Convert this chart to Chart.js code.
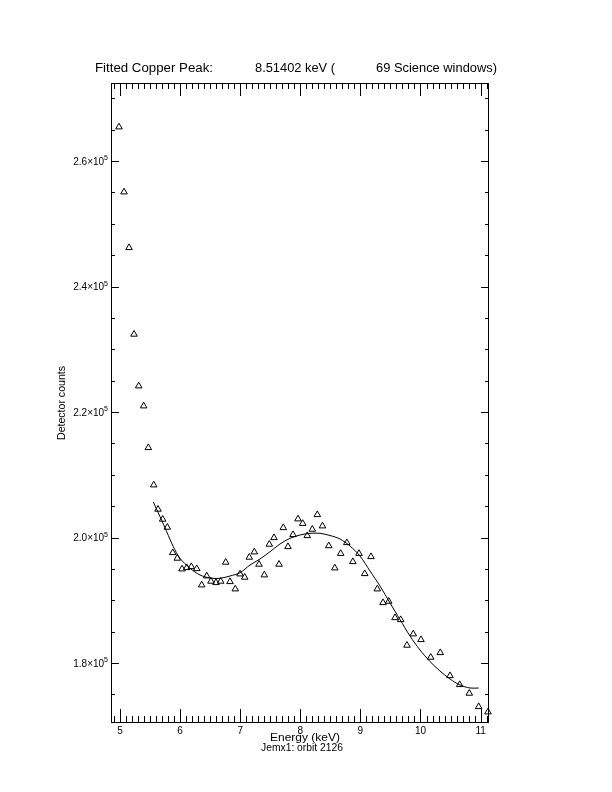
<!DOCTYPE html>
<html>
<head>
<meta charset="utf-8">
<script src="https://cdn.jsdelivr.net/npm/chart.js@4.4.1/dist/chart.umd.min.js"></script>
<style>
  html,body{margin:0;padding:0;background:#fff}
  #wrap{width:612px;height:792px}
</style>
</head>
<body>
<div id="wrap"><canvas id="chart" width="612" height="792"></canvas></div>
<script>
// measured spectrum (keV / counts)
const energy=[4.983,5.067,5.150,5.233,5.311,5.394,5.471,5.561,5.632,5.710,
  5.787,5.877,5.953,6.032,6.110,6.186,6.276,6.359,6.443,6.514,
  6.597,6.676,6.759,6.830,6.918,6.997,7.075,7.151,7.235,7.313,
  7.401,7.484,7.562,7.646,7.717,7.795,7.879,7.962,8.040,8.116,
  8.200,8.283,8.369,8.474,8.574,8.672,8.774,8.874,8.977,9.072,
  9.176,9.281,9.376,9.471,9.576,9.671,9.775,9.880,10.008,10.170,
  10.329,10.491,10.652,10.812,10.968,11.123];
const counts=[265418,255060,246184,232383,224144,220957,214311,208367,204495,202901,
  201626,197579,196686,194981,195188,195348,195029,192431,193866,193021,
  192798,193021,196049,192957,191794,194184,193658,196846,197690,195730,
  194025,198917,199969,195730,201563,198535,200447,202949,202232,200288,
  201308,203634,201834,198678,195140,197451,199172,196145,197451,194232,
  196942,191794,189611,189834,187220,186902,182822,184623,183715,180909,
  181642,177979,176543,175173,173037,172193];

// fitted curve
const fitEnergy=[5.554,5.666,5.777,5.887,5.998,6.165,6.331,6.498,6.664,6.830,
  6.997,7.163,7.329,7.496,7.662,7.829,7.995,8.161,8.328,8.494,
  8.661,8.827,8.993,9.160,9.326,9.493,9.659,9.825,9.992,10.158,
  10.324,10.491,10.657,10.824,10.968];
const fitCounts=[205658,203316,200925,198535,196686,195093,194025,193547,193499,193866,
  194392,195619,196575,197738,198965,199873,200399,200670,200670,200320,
  199762,198646,197053,194662,192272,189563,186933,184304,182073,180240,
  178726,177452,176495,176017,176017];

const xTicks=[5,6,7,8,9,10,11];
const yTicks=[180000,200000,220000,240000,260000];
const yTickLabels=['1.8','2.0','2.2','2.4','2.6'];
const titleParts=['Fitted Copper Peak:','8.51402 keV (','69 Science windows)'];
const xTitle='Energy (keV)';
const subTitle='Jemx1: orbit 2126';
const yTitle='Detector counts';

// text squeezed/stretched to the width it has in the original
function fitText(ctx,str,x,y,w,size){
  ctx.save();
  ctx.font=size+'px "Liberation Sans"';
  const m=ctx.measureText(str).width;
  ctx.translate(x,y);
  ctx.scale(w/m,1);
  ctx.textAlign='left';
  ctx.fillText(str,0,0);
  ctx.restore();
}

const idlFrame={
  id:'idlFrame',
  afterDraw(chart){
    const {ctx,chartArea:a,scales:{x,y}}=chart;
    ctx.save();
    ctx.strokeStyle='#000';ctx.fillStyle='#000';ctx.lineWidth=1;
    ctx.strokeRect(a.left+0.5,a.top+0.5,a.right-a.left-1,a.bottom-a.top);
    ctx.beginPath();
    // x ticks, 0.1 keV minor
    for(let k=49;k<=111;k++){
      const px=Math.round(x.getPixelForValue(k/10))+0.5;
      const L=k%10===0?13:6;
      ctx.moveTo(px,a.bottom);ctx.lineTo(px,a.bottom-L);
      ctx.moveTo(px,a.top);ctx.lineTo(px,a.top+L);
    }
    // y ticks, 5000 minor
    for(let v=175000;v<=270000;v+=5000){
      const py=Math.round(y.getPixelForValue(v))+0.5;
      const L=v%20000===0?8:4;
      ctx.moveTo(a.left,py);ctx.lineTo(a.left+L,py);
      ctx.moveTo(a.right,py);ctx.lineTo(a.right-L,py);
    }
    ctx.stroke();

    ctx.font='10px "Liberation Sans"';
    ctx.textAlign='center';ctx.textBaseline='top';
    xTicks.forEach(v=>ctx.fillText(String(v),x.getPixelForValue(v),726));

    yTicks.forEach((v,i)=>{
      const py=y.getPixelForValue(v);
      ctx.font='7px "Liberation Sans"';
      const ws=ctx.measureText('5').width;
      const right=a.left-3;
      ctx.textAlign='left';ctx.textBaseline='alphabetic';
      ctx.fillText('5',right-ws,py-1);
      ctx.font='10px "Liberation Sans"';
      ctx.textAlign='right';ctx.textBaseline='middle';
      ctx.fillText(yTickLabels[i]+'\u00d710',right-ws,py+1);
    });

    ctx.textBaseline='alphabetic';
    fitText(ctx,titleParts[0],95,72,118,12);
    fitText(ctx,titleParts[1],255,72,80,12);
    fitText(ctx,titleParts[2],376,72,121,12);
    fitText(ctx,xTitle,270,741,70,11);
    fitText(ctx,subTitle,261,751,82,11);

    ctx.save();
    ctx.translate(65,440);
    ctx.rotate(-Math.PI/2);
    fitText(ctx,yTitle,0,0,74,11);
    ctx.restore();
    ctx.restore();
  }
};

new Chart(document.getElementById('chart'),{
  type:'scatter',
  data:{datasets:[
    {label:'data',data:energy.map((e,i)=>({x:e,y:counts[i]})),
     pointStyle:'triangle',radius:3.8,borderColor:'#000',borderWidth:1,
     backgroundColor:'rgba(0,0,0,0)',clip:false},
    {label:'fit',data:fitEnergy.map((e,i)=>({x:e,y:fitCounts[i]})),
     showLine:true,pointRadius:0,borderColor:'#000',borderWidth:1,tension:0.3,fill:false}
  ]},
  options:{
    responsive:false,animation:false,
    layout:{padding:{left:111,top:83,right:123,bottom:70}},
    plugins:{legend:{display:false},tooltip:{enabled:false}},
    scales:{
      x:{type:'linear',display:false,min:4.85,max:11.14},
      y:{type:'linear',display:false,min:170600,max:272430}
    }
  },
  plugins:[idlFrame]
});
</script>
</body>
</html>
